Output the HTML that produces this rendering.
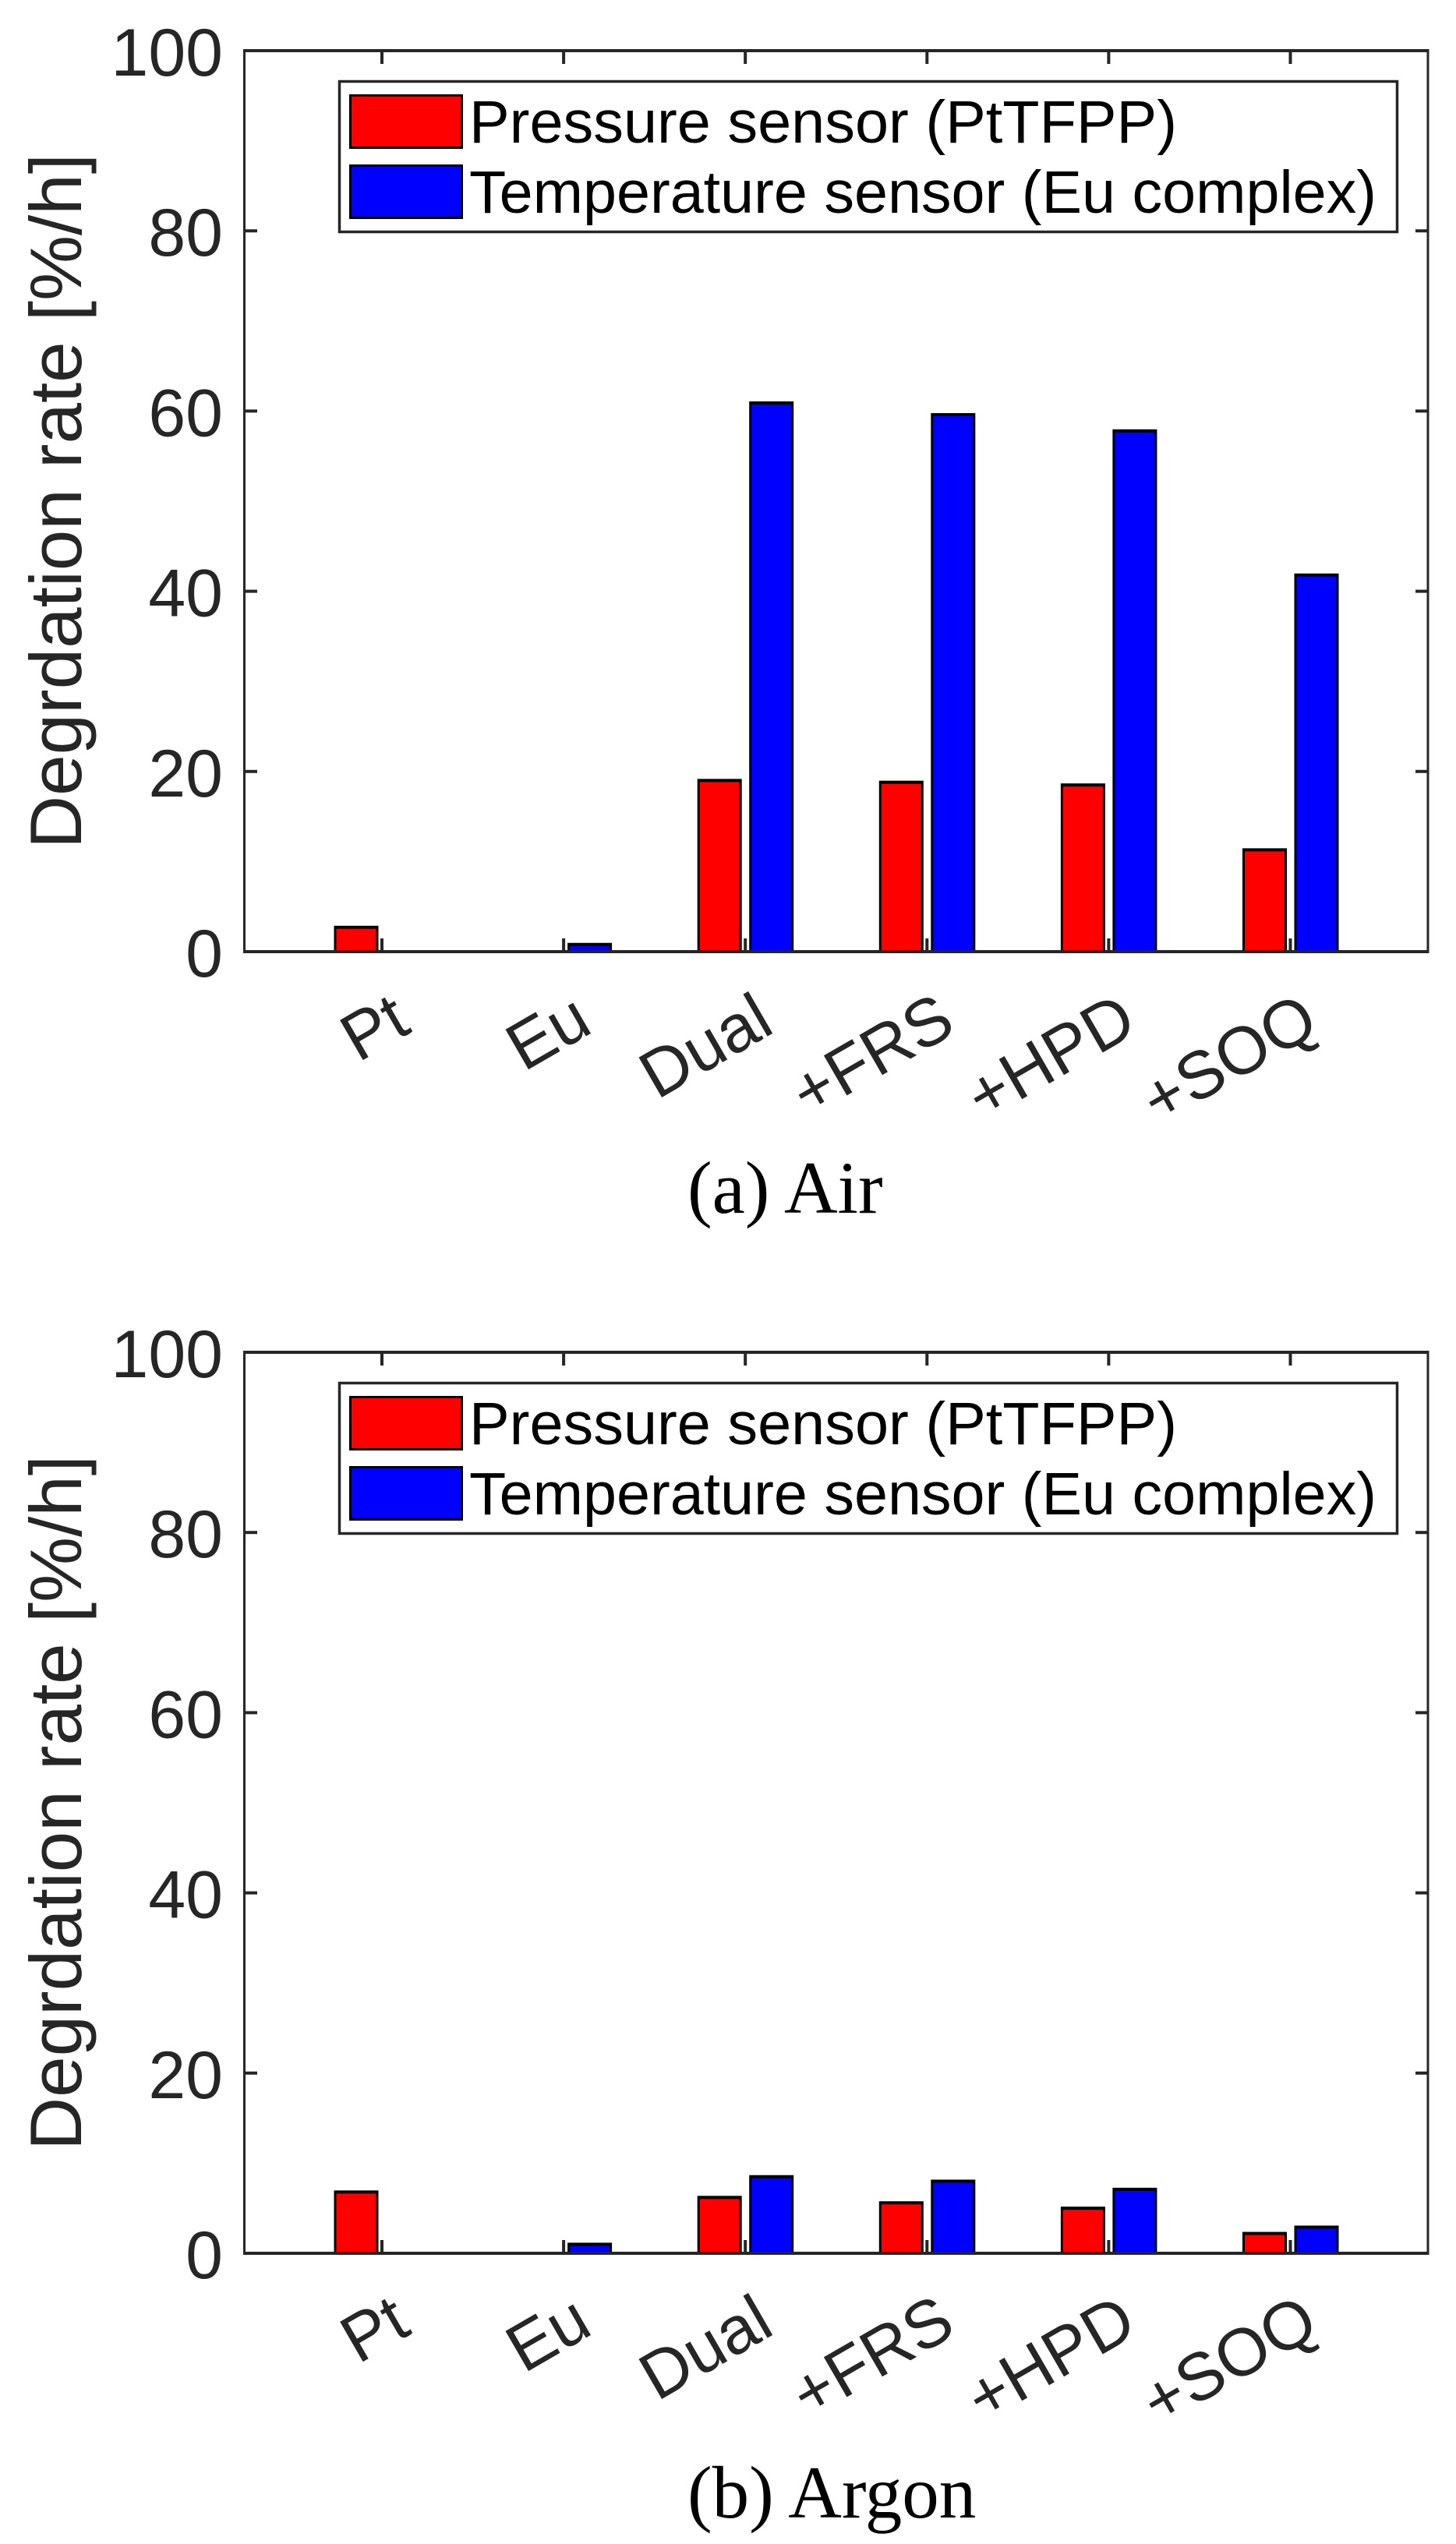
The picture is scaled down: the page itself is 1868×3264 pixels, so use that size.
<!DOCTYPE html>
<html lang="en">
<head>
<meta charset="utf-8">
<title>Degradation rate in air and argon</title>
<style>
html,body{margin:0;padding:0;background:#fff;}
svg{display:block;}
text{font-family:"Liberation Sans",sans-serif;}
.serif{font-family:"Liberation Serif",serif;}
</style>
</head>
<body>
<svg id="figure" xmlns="http://www.w3.org/2000/svg" width="1868" height="3264" viewBox="0 0 1868 3264">
<rect x="0" y="0" width="1868" height="3264" fill="#fff"/>
</svg>
<script>
const categories = ['Pt', 'Eu', 'Dual', '+FRS', '+HPD', '+SOQ'];
const yTickLabels = [0, 20, 40, 60, 80, 100];
const legendLabels = ['Pressure sensor (PtTFPP)', 'Temperature sensor (Eu complex)'];
const yAxisTitle = 'Degrdation rate [%/h]';
const airPressure = [2.7, 0, 19.0, 18.8, 18.5, 11.3];
const airTemperature = [0, 0.8, 60.9, 59.6, 57.8, 41.8];
const argonPressure = [6.8, 0, 6.2, 5.6, 5.0, 2.2];
const argonTemperature = [0, 1.0, 8.5, 8.0, 7.1, 2.9];
const airCaption = '(a) Air';
const argonCaption = '(b) Argon';

const svg = document.getElementById('figure');
const NS = 'http://www.w3.org/2000/svg';
const AXIS = '#262626';

function xScale(i) { return 490 + i * 233.1; }
function yScale(v, top) { return top + 1156 * (1 - v / 100); }

function addRect(parent, x, y, w, h, fill) {
  const r = document.createElementNS(NS, 'rect');
  r.setAttribute('x', x);
  r.setAttribute('y', y);
  r.setAttribute('width', w);
  r.setAttribute('height', h);
  r.setAttribute('fill', fill);
  parent.appendChild(r);
  return r;
}
function addText(parent, str, x, y, size, fill) {
  const t = document.createElementNS(NS, 'text');
  t.setAttribute('x', x);
  t.setAttribute('y', y);
  t.setAttribute('font-size', size);
  t.setAttribute('fill', fill);
  t.textContent = str;
  parent.appendChild(t);
  return t;
}
function addBar(parent, i, v, top, isPressure) {
  const left = xScale(i) + (isPressure ? -61.5 : 5);
  const yTop = yScale(v, top);
  const bottom = yScale(0, top);
  const g = document.createElementNS(NS, 'g');
  
  
  addRect(g, left, yTop - 2, 57, Math.max(bottom - yTop + 2, 0), '#000');
  addRect(g, left + 3, yTop + 2, 51, Math.max(bottom - yTop - 2, 0), isPressure ? '#f00' : '#00f');
  parent.appendChild(g);
}

function drawPanel(name, top, pressure, temperature, caption, captionBaseline) {
  const panel = document.createElementNS(NS, 'g');
  
  
  svg.appendChild(panel);

  categories.forEach(function (c, i) {
    addBar(panel, i, pressure[i], top, true);
    addBar(panel, i, temperature[i], top, false);
  });

  const axes = document.createElementNS(NS, 'g');
  
  
  panel.appendChild(axes);
  const yBottom = yScale(0, top);
  addRect(axes, 312, top - 2, 3, 1160, AXIS);
  addRect(axes, 1830.5, top - 2, 3, 1160, AXIS);
  addRect(axes, 312, top - 2, 1521.5, 4, AXIS);
  addRect(axes, 312, yBottom - 2, 1521.5, 4, AXIS);

  categories.forEach(function (c, i) {
    const x = xScale(i);
    const tickB = addRect(panel, x - 2, yBottom - 17, 4, 16, AXIS);
    
    
    const tickT = addRect(panel, x - 2, top + 1, 4, 16, AXIS);
    
    
    const lx = x + 40;
    const ly = yBottom + 102;
    const label = addText(panel, c, lx, ly, 86, AXIS);
    label.setAttribute('text-anchor', 'end');
    label.setAttribute('transform', 'rotate(-30 ' + lx + ' ' + ly + ')');
    
    
  });

  yTickLabels.forEach(function (v) {
    const y = yScale(v, top);
    const tickL = addRect(panel, 315, y - 2, 15, 4, AXIS);
    
    
    const tickR = addRect(panel, 1816, y - 2, 15, 4, AXIS);
    
    
    const label = addText(panel, String(v), 286, y + 32, 86, AXIS);
    label.setAttribute('text-anchor', 'end');
    
    
  });

  const midY = top + 578;
  const title = addText(panel, yAxisTitle, 104, midY, 94, AXIS);
  title.setAttribute('text-anchor', 'middle');
  title.setAttribute('transform', 'rotate(-90 104 ' + midY + ')');
  title.setAttribute('textLength', '892');
  title.setAttribute('lengthAdjust', 'spacingAndGlyphs');
  
  

  const legend = document.createElementNS(NS, 'g');
  
  
  panel.appendChild(legend);
  const box = addRect(legend, 435.5, top + 39.5, 1357, 193, '#fff');
  box.setAttribute('stroke', AXIS);
  box.setAttribute('stroke-width', '3.5');

  const swatchTops = [top + 56, top + 146];
  const swatchColors = ['#f00', '#00f'];
  const baselines = [top + 118, top + 208];
  const widths = [908, 1164];
  legendLabels.forEach(function (s, i) {
    addRect(legend, 448, swatchTops[i], 146, 70, '#000');
    addRect(legend, 451, swatchTops[i] + 3, 140, 64, swatchColors[i]);
    const t = addText(legend, s, 602, baselines[i], 77, '#000');
    t.setAttribute('textLength', widths[i]);
    t.setAttribute('lengthAdjust', 'spacingAndGlyphs');
    
    
  });

  const cap = addText(panel, caption, 882, captionBaseline, 95, '#000');
  cap.setAttribute('class', 'serif');
  
  
}

drawPanel('air', 65, airPressure, airTemperature, airCaption, 1556);
drawPanel('argon', 1735, argonPressure, argonTemperature, argonCaption, 3230);
</script>
</body>
</html>
